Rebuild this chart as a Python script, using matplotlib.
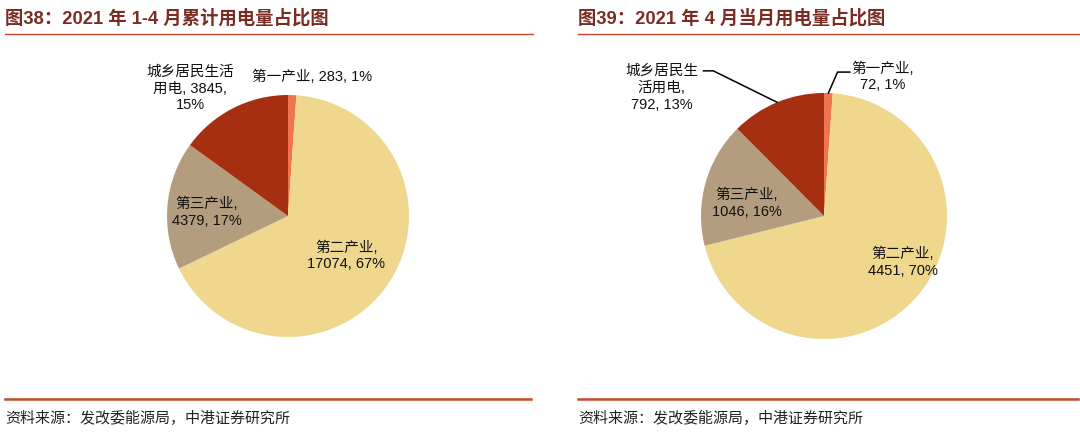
import numpy as np
import matplotlib
matplotlib.use('Agg')
import matplotlib.pyplot as plt
from matplotlib.lines import Line2D

plt.rcParams['font.family'] = ['Liberation Sans', 'Noto Sans CJK SC', 'DejaVu Sans']

# data
cats = ['第一产业', '第二产业', '第三产业', '城乡居民生活用电']
jan_apr = [283, 17074, 4379, 3845]
jan_apr_pct = [1, 67, 17, 15]
april = [72, 4451, 1046, 792]
april_pct = [1, 70, 16, 13]

titles = ['图38：2021 年 1-4 月累计用电量占比图', '图39：2021 年 4 月当月用电量占比图']
source = '资料来源：发改委能源局，中港证券研究所'

colors = ['#EE7550', '#EFD78E', '#B39D7E', '#A52F10']
title_color = '#7A2B24'
line_color = '#C9482B'

W, H = 1080, 435
fig = plt.figure(figsize=(W / 100, H / 100), dpi=100)


def fx(px):
    return px / W


def fy(py):
    return 1 - py / H


def draw_pie(cx, cy, r, vals, pcts, templates, text_pos, leaders):
    ax = fig.add_axes([fx(cx - r), fy(cy + r), 2 * r / W, 2 * r / H])
    wedges, _ = ax.pie(vals, colors=colors, startangle=90, counterclock=False,
                       radius=1.0, wedgeprops=dict(linewidth=0))
    ax.set_xlim(-1, 1)
    ax.set_ylim(-1, 1)
    ax.set_aspect('equal')
    ax.axis('off')
    for i, w in enumerate(wedges):
        txt = templates[i].format(v=vals[i], p=pcts[i])
        tx, ty = text_pos[i]
        ax.text(tx, ty, txt, ha='center', va='center', fontsize=10.5,
                linespacing=1.25, color='#111111')
        if leaders[i] is not None:
            mid = np.deg2rad((w.theta1 + w.theta2) / 2)
            ex, ey = np.cos(mid), np.sin(mid)
            (bx, by), (hx, hy) = leaders[i]
            ax.plot([ex, bx, hx], [ey, by, hy], color='black', lw=1.1,
                    clip_on=False)
    return ax


# left panel
draw_pie(288, 217, 121, jan_apr, jan_apr_pct,
         ['第一产业, {v}, {p}%', '第二产业,\n{v}, {p}%', '第三产业,\n{v}, {p}%',
          '城乡居民生活\n用电, {v},\n{p}%'],
         [(0.2, 1.16), (0.48, -0.32), (-0.67, 0.04), (-0.81, 1.06)],
         [None, None, None, None])

# right panel
draw_pie(824, 217, 123, april, april_pct,
         ['第一产业,\n{v}, {p}%', '第二产业,\n{v}, {p}%', '第三产业,\n{v}, {p}%',
          '城乡居民生\n活用电,\n{v}, {p}%'],
         [(0.48, 1.14), (0.64, -0.37), (-0.63, 0.11), (-1.32, 1.05)],
         [((0.11, 1.17), (0.21, 1.17)), None, None,
          ((-0.90, 1.18), (-0.98, 1.18))])

# titles, rules and source text
for x0, x1, t in [(5, 533, titles[0]), (578, 1080, titles[1])]:
    fig.text(fx(x0), fy(18), t, ha='left', va='center', fontsize=13.2,
             fontweight='bold', color=title_color)
    fig.add_artist(Line2D([fx(x0), fx(x1)], [fy(35), fy(35)], color=line_color, lw=1.0))
    fig.add_artist(Line2D([fx(x0), fx(x1 - 2)], [fy(400), fy(400)], color=line_color, lw=1.8))
    fig.text(fx(x0), fy(418), source, ha='left', va='center', fontsize=10.8,
             style='italic', color='#222222')

fig.savefig('out.png', dpi=100)
